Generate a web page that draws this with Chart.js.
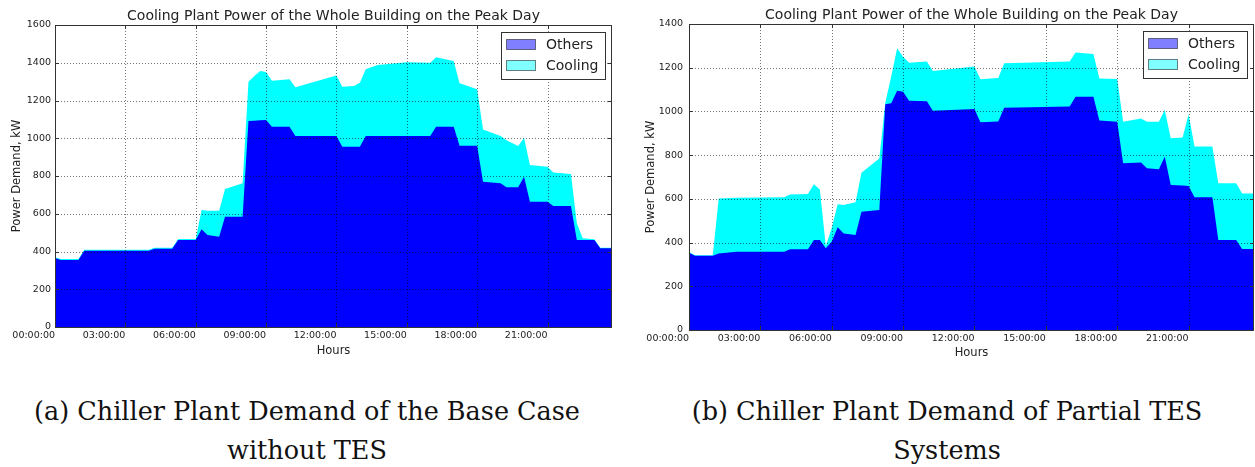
<!DOCTYPE html>
<html>
<head>
<meta charset="utf-8">
<title>Cooling Plant Power</title>
<script src="https://cdn.jsdelivr.net/npm/chart.js@4.4.0/dist/chart.umd.min.js"></script>
<style>
  body { margin: 0; background: #fff; width: 1255px; height: 467px; position: relative; overflow: hidden; }
  .plot { position: absolute; top: 0; width: 625px; height: 365px; }
  .caption { position: absolute; top: 392px; width: 620px; text-align: center;
             font-family: "DejaVu Serif", serif; font-size: 25.5px; line-height: 39px; color: #111; }
</style>
</head>
<body>
<div class="plot" style="left:0"><canvas id="chartA" width="625" height="365"></canvas></div>
<div class="plot" style="left:630px"><canvas id="chartB" width="625" height="365"></canvas></div>
<div class="caption" style="left:-3px">(a) Chiller Plant Demand of the Base Case<br>without TES</div>
<div class="caption" style="left:637px">(b) Chiller Plant Demand of Partial TES<br>Systems</div>
<script>
// x axis ticks (hours of the day)
const tickHours = [0, 3, 6, 9, 12, 15, 18, 21];
const tickLabels = ['00:00:00', '03:00:00', '06:00:00', '09:00:00', '12:00:00', '15:00:00', '18:00:00', '21:00:00'];

// (a) base case, kW
const hoursA = [0, 0.25, 1, 1.25, 4, 4.25, 5, 5.25, 6, 6.25, 6.5, 7, 7.25, 8, 8.25, 8.5, 8.75, 9, 9.25, 10,
  10.25, 12, 12.25, 12.75, 13, 13.25, 13.75, 15, 16, 16.25, 17, 17.25, 18, 18.25, 19, 19.25, 19.75, 20,
  20.25, 21, 21.25, 22, 22.25, 22.5, 23, 23.25, 23.75];
const othersA = [365, 355, 355, 404, 404, 415, 415, 461, 461, 518, 487, 478, 584, 584, 1091, 1093, 1095, 1097, 1061, 1061,
  1012, 1012, 955, 955, 955, 1012, 1012, 1012, 1012, 1061, 1061, 960, 960, 770, 761, 740, 740, 796,
  664, 664, 641, 641, 461, 461, 461, 417, 417];
const totalA = [370, 360, 360, 409, 409, 420, 420, 466, 466, 620, 616, 616, 731, 761, 1300, 1330, 1356, 1351, 1305, 1312,
  1270, 1333, 1273, 1277, 1294, 1365, 1388, 1402, 1400, 1429, 1409, 1291, 1259, 1047, 1012, 990, 959, 1003,
  858, 849, 818, 811, 550, 470, 465, 420, 420];

// (b) partial TES, kW
const hoursB = [0, 0.25, 1, 1.25, 2, 4, 4.25, 5, 5.25, 5.5, 5.75, 6, 6.25, 6.5, 7, 7.25, 8, 8.25, 8.5, 8.75,
  9, 9.25, 10, 10.25, 12, 12.25, 13, 13.25, 16, 16.25, 17, 17.25, 18, 18.25, 19, 19.25, 19.75, 20,
  20.25, 20.75, 21, 21.25, 22, 22.25, 23, 23.25, 23.75];
const othersB = [354, 340, 340, 350, 358, 358, 369, 369, 412, 412, 374, 404, 470, 442, 435, 541, 549, 1033, 1037, 1095,
  1090, 1049, 1047, 1003, 1011, 950, 954, 1017, 1022, 1067, 1067, 958, 953, 763, 766, 740, 735, 793,
  663, 661, 659, 607, 607, 412, 412, 371, 371];
const totalB = [358, 342, 342, 602, 605, 607, 620, 622, 667, 643, 384, 467, 575, 572, 585, 720, 785, 1040, 1160, 1289,
  1250, 1223, 1228, 1185, 1205, 1147, 1153, 1220, 1228, 1270, 1263, 1151, 1148, 953, 968, 953, 953, 1006,
  877, 881, 987, 839, 839, 671, 671, 625, 625];

const chartTitle = 'Cooling Plant Power of the Whole Building on the Peak Day';
const FONT = 'DejaVu Sans';
const TEXT = '#222';

// frame, dotted grid on top of the areas, inner ticks, title and boxed legend
const decorations = {
  id: 'decorations',
  afterDatasetsDraw(chart) {
    const { ctx, chartArea: a, scales: { x, y } } = chart;
    ctx.save();
    ctx.lineWidth = 1;
    ctx.strokeStyle = 'rgba(0,0,0,0.55)';
    ctx.setLineDash([1, 2]);
    ctx.beginPath();
    x.ticks.forEach(t => {
      const px = Math.round(x.getPixelForValue(t.value)) + 0.5;
      if (px > a.left + 1 && px < a.right - 1) { ctx.moveTo(px, a.top); ctx.lineTo(px, a.bottom); }
    });
    y.ticks.forEach(t => {
      const py = Math.round(y.getPixelForValue(t.value)) + 0.5;
      if (py > a.top + 1 && py < a.bottom - 1) { ctx.moveTo(a.left, py); ctx.lineTo(a.right, py); }
    });
    ctx.stroke();
    ctx.setLineDash([]);

    ctx.strokeStyle = '#333';
    ctx.beginPath();
    x.ticks.forEach(t => {
      const px = Math.round(x.getPixelForValue(t.value)) + 0.5;
      ctx.moveTo(px, a.bottom); ctx.lineTo(px, a.bottom - 4);
      ctx.moveTo(px, a.top); ctx.lineTo(px, a.top + 4);
    });
    y.ticks.forEach(t => {
      const py = Math.round(y.getPixelForValue(t.value)) + 0.5;
      ctx.moveTo(a.left, py); ctx.lineTo(a.left + 4, py);
      ctx.moveTo(a.right, py); ctx.lineTo(a.right - 4, py);
    });
    ctx.stroke();
    ctx.strokeRect(Math.round(a.left) + 0.5, Math.round(a.top) + 0.5,
      Math.round(a.right - a.left) - 1, Math.round(a.bottom - a.top));
    ctx.restore();
  },
  afterDraw(chart) {
    const { ctx, chartArea: a } = chart;
    ctx.save();
    ctx.fillStyle = TEXT;
    ctx.font = '14px "' + FONT + '"';
    ctx.textAlign = 'center';
    ctx.textBaseline = 'alphabetic';
    ctx.fillText(chartTitle, (a.left + a.right) / 2, a.top - 5.5);

    // legend box in the upper right corner
    const w = 104, h = 47;
    const bx = Math.round(a.right - 7 - w) + 0.5, by = Math.round(a.top + 7) + 0.5;
    ctx.fillStyle = '#fff';
    ctx.fillRect(bx, by, w, h);
    ctx.strokeStyle = '#333';
    ctx.lineWidth = 1;
    ctx.strokeRect(bx, by, w, h);
    ctx.textAlign = 'left';
    ctx.textBaseline = 'middle';
    chart.data.datasets.forEach((ds, i) => {
      const cy = by + 12 + i * 21;
      ctx.globalAlpha = 0.5;
      ctx.fillStyle = ds.backgroundColor;
      ctx.fillRect(bx + 5, cy - 5, 29, 10);
      ctx.strokeStyle = '#000';
      ctx.strokeRect(bx + 5, cy - 5, 29, 10);
      ctx.globalAlpha = 1;
      ctx.fillStyle = TEXT;
      ctx.fillText(ds.label, bx + 44.5, cy + 0.5);
    });
    ctx.restore();
  }
};

function makeChart(id, hours, others, total, yMax, box) {
  const toPoints = vals => vals.map((v, i) => ({ x: hours[i], y: v }));
  const tickFont = { family: FONT, size: 9.5 };
  const titleFont = { family: FONT, size: 11.5 };
  return new Chart(document.getElementById(id), {
    type: 'line',
    data: {
      datasets: [
        { label: 'Others', data: toPoints(others), backgroundColor: '#0000ff', fill: 'origin',
          borderWidth: 0, pointRadius: 0, tension: 0 },
        { label: 'Cooling', data: toPoints(total), backgroundColor: '#00ffff', fill: 'origin',
          borderWidth: 0, pointRadius: 0, tension: 0 }
      ]
    },
    options: {
      responsive: false,
      animation: false,
      layout: { padding: { top: box.top, right: box.right, left: 0, bottom: 0 } },
      plugins: { legend: { display: false }, tooltip: { enabled: false }, title: { display: false } },
      scales: {
        x: {
          type: 'linear', min: 0, max: 23.75,
          afterBuildTicks: s => { s.ticks = tickHours.map(v => ({ value: v })); },
          afterFit: s => { s.height = box.xAxis; },
          grid: { display: false, drawTicks: false },
          border: { display: false },
          ticks: { align: 'end', maxRotation: 0, autoSkip: false, padding: 3, font: tickFont, color: TEXT,
                   callback: (v, i) => tickLabels[i] },
          title: { display: true, text: 'Hours', font: titleFont, color: TEXT, padding: { top: 0, bottom: box.xTitle } }
        },
        y: {
          min: 0, max: yMax,
          afterFit: s => { s.width = box.yAxis; },
          grid: { display: false, drawTicks: false },
          border: { display: false },
          ticks: { stepSize: 200, padding: box.yPad, font: tickFont, color: TEXT, callback: v => String(v) },
          title: { display: true, text: 'Power Demand, kW', font: titleFont, color: TEXT, padding: { top: box.yTitle, bottom: 0 } }
        }
      }
    },
    plugins: [decorations]
  });
}

makeChart('chartA', hoursA, othersA, totalA, 1600,
  { top: 25, right: 13, xAxis: 38, yAxis: 55, xTitle: 7, yTitle: 10.4, yPad: 4 });
makeChart('chartB', hoursB, othersB, totalB, 1400,
  { top: 24, right: 1, xAxis: 35, yAxis: 59, xTitle: 4.7, yTitle: 13.7, yPad: 6 });
</script>
</body>
</html>
